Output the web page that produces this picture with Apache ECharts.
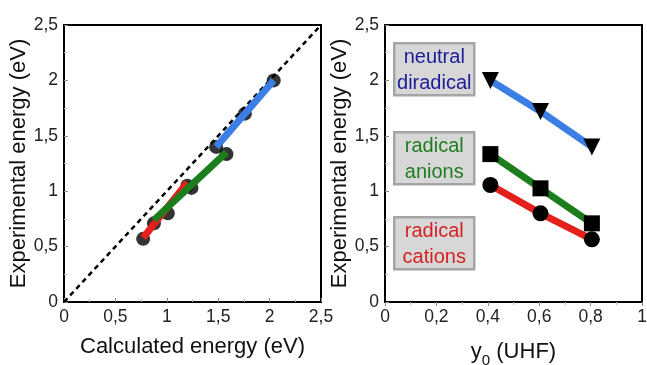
<!DOCTYPE html>
<html>
<head>
<meta charset="utf-8">
<script src="https://cdn.jsdelivr.net/npm/echarts@6/dist/echarts.min.js"></script>
<style>
  html, body { margin: 0; padding: 0; background: #fff; }
  #chart { width: 647px; height: 365px; }
</style>
</head>
<body>
<div id="chart"></div>
<script>
// left panel: calculated vs experimental energy (eV)
const calcCations = [0.77, 1.01, 1.2]
const expCations = [0.57, 0.80, 1.05]
const calcAnions = [0.875, 1.24, 1.58]
const expAnions = [0.71, 1.03, 1.335]
const calcNeutral = [1.48, 1.76, 2.04]
const expNeutral = [1.40, 1.70, 2.0]
// trend segments as drawn
const fitCations = [[0.77, 0.58], [1.2, 1.08]]
const fitAnions = [[0.875, 0.74], [1.58, 1.35]]
const fitNeutral = [[1.48, 1.40], [2.04, 2.0]]
const diagonal = [[0, 0], [2.5, 2.5]]

// right panel: experimental energy vs y0 (UHF)
const y0 = [0.41, 0.605, 0.805]
const neutralExp = [2.0, 1.72, 1.40]
const anionsExp = [1.335, 1.026, 0.71]
const cationsExp = [1.056, 0.80, 0.566]

const labels = [
  { text: 'neutral\ndiradical', color: '#1c1c96' },
  { text: 'radical\nanions', color: '#1f7d1f' },
  { text: 'radical\ncations', color: '#d42222' },
]

const BLUE = '#3a7ee6', GREEN = '#1b7d1b', RED = '#e3201b'
const FONT = 'Liberation Sans, Arial, sans-serif'

const zip = (xs, ys) => xs.map((x, i) => [x, ys[i]])
const fmt = v => String(+v.toFixed(2)).replace('.', ',')

const chart = echarts.init(document.getElementById('chart'), null, { renderer: 'canvas' })

function valueAxis(gridIndex, max, interval, name, nameGap, opts = {}) {
  return Object.assign({
    type: 'value',
    gridIndex,
    min: 0,
    max,
    interval,
    name,
    nameLocation: 'middle',
    nameGap,
    nameTextStyle: { fontFamily: FONT, fontSize: 22, color: '#111' },
    axisLine: { show: false },
    axisTick: { show: true, inside: true, length: 4, lineStyle: { color: '#888', width: 1 } },
    minorTick: { show: true, splitNumber: 2, length: 3, lineStyle: { color: '#bbb' } },
    splitLine: { show: false },
    axisLabel: { fontFamily: FONT, fontSize: 17.5, color: '#222', formatter: fmt, margin: 6 },
  }, opts)
}

const lineSeg = (data, color, xi, yi) => ({
  type: 'line', xAxisIndex: xi, yAxisIndex: yi, data,
  showSymbol: false, symbol: 'none', z: 4,
  lineStyle: { color, width: 7, cap: 'butt' },
})

const dots = (xs, ys) => ({
  type: 'scatter', xAxisIndex: 0, yAxisIndex: 0, data: zip(xs, ys),
  symbol: 'circle', symbolSize: 14, z: 3,
  itemStyle: { color: '#000' },
})

const rightLine = (ys, color, symbol, size, rotate) => ({
  type: 'line', xAxisIndex: 1, yAxisIndex: 1, data: zip(y0, ys),
  symbol, symbolSize: size, symbolRotate: rotate || 0, showSymbol: true,
  lineStyle: { color, width: 7 },
  itemStyle: { color: '#000' },
  z: 4,
})

const boxes = [42, 131, 216].map((top, i) => ({
  type: 'group', left: 393, top,
  children: [
    { type: 'rect', shape: { x: 0, y: 0, width: 80, height: 52 },
      style: { fill: '#d7d7d7', stroke: '#a5a5a5', lineWidth: 2.5 } },
    { type: 'text', x: 40, y: 27,
      style: { text: labels[i].text, fill: labels[i].color, font: '20px ' + FONT,
        align: 'center', verticalAlign: 'middle', lineHeight: 26 } },
  ],
}))

chart.setOption({
  backgroundColor: '#fff',
  animation: false,
  grid: [
    { left: 64, top: 25, width: 257, height: 277, show: true, borderColor: '#000', borderWidth: 2,
      backgroundColor: 'transparent', outerBoundsMode: 'none', containLabel: false },
    { left: 385, top: 25, width: 257, height: 277, show: true, borderColor: '#000', borderWidth: 2,
      backgroundColor: 'transparent', outerBoundsMode: 'none', containLabel: false },
  ],
  xAxis: [
    valueAxis(0, 2.5, 0.5, 'Calculated energy (eV)', 34),
    valueAxis(1, 1, 0.2, 'y{sub|0} (UHF)', 33, {
      axisTick: { show: true, inside: false, length: 4, lineStyle: { color: '#888', width: 1 } },
      nameTextStyle: { fontFamily: FONT, fontSize: 22, color: '#111',
        rich: { sub: { fontFamily: FONT, fontSize: 15, color: '#111', padding: [18, 0, 0, 0] } } },
    }),
  ],
  yAxis: [
    valueAxis(0, 2.5, 0.5, 'Experimental energy (eV)', 25),
    valueAxis(1, 2.5, 0.5, 'Experimental energy (eV)', 30),
  ],
  series: [
    {
      type: 'line', xAxisIndex: 0, yAxisIndex: 0, data: diagonal,
      symbol: 'none', z: 2,
      lineStyle: { color: '#000', width: 2.5, type: [5, 4] },
    },
    dots(calcCations, expCations),
    dots(calcAnions, expAnions),
    dots(calcNeutral, expNeutral),
    lineSeg(fitCations, RED, 0, 0),
    lineSeg(fitAnions, GREEN, 0, 0),
    lineSeg(fitNeutral, BLUE, 0, 0),
    rightLine(neutralExp, BLUE, 'triangle', 17, 180),
    rightLine(anionsExp, GREEN, 'rect', 16),
    rightLine(cationsExp, RED, 'circle', 16),
  ],
  graphic: boxes,
})
</script>
</body>
</html>
